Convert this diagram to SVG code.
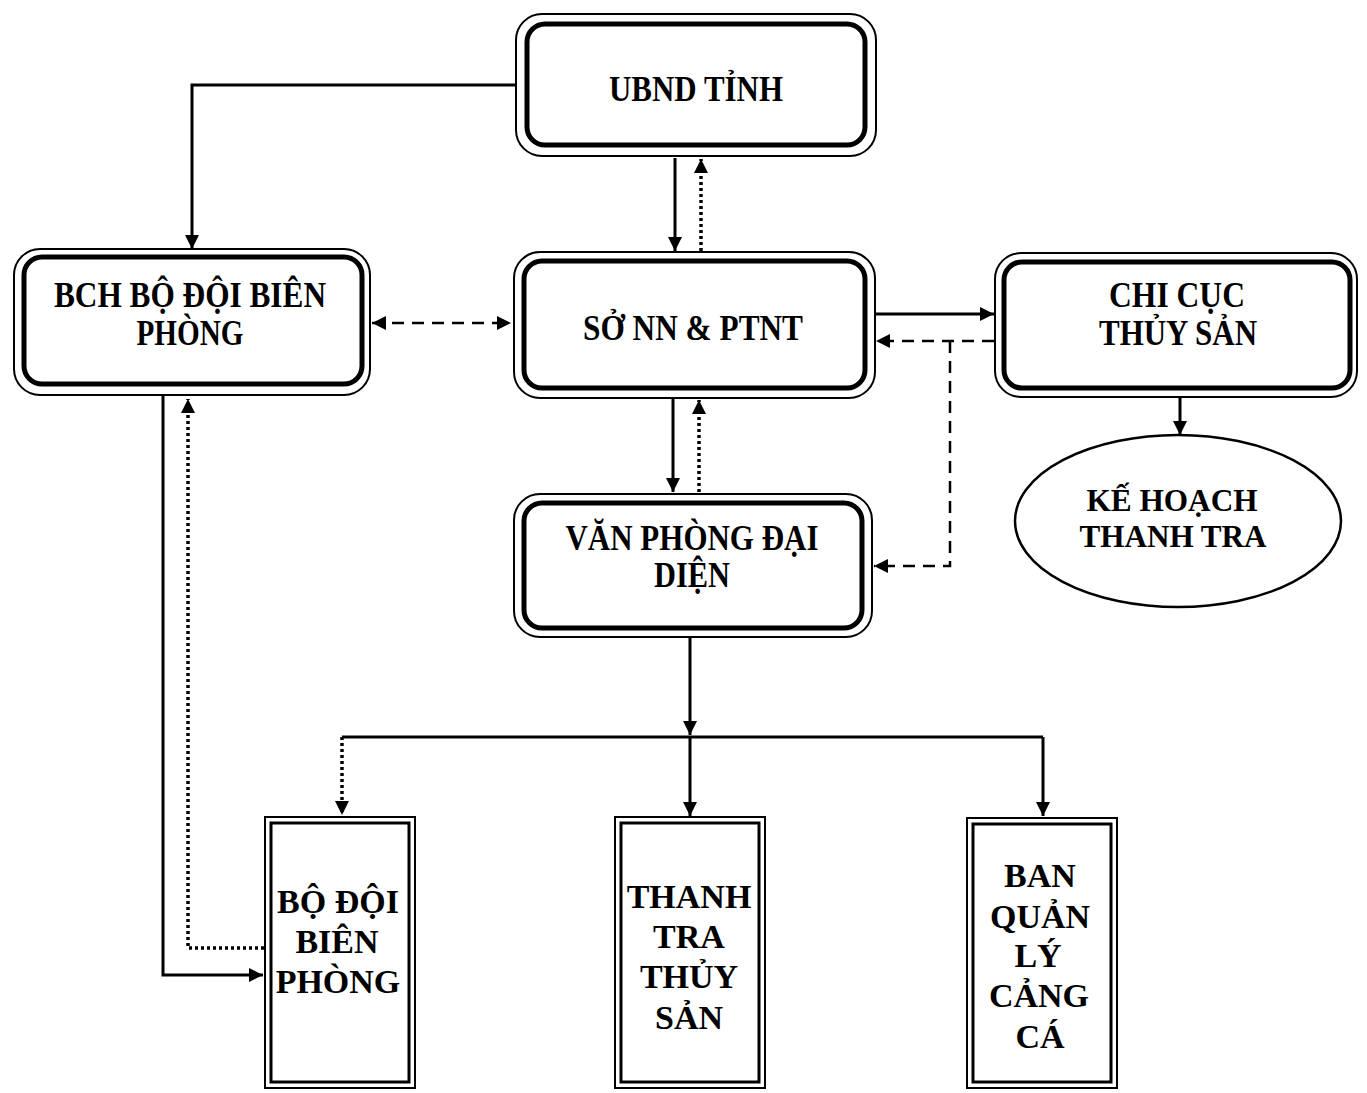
<svg xmlns="http://www.w3.org/2000/svg" width="1367" height="1093" viewBox="0 0 1367 1093">
<defs>
<style>
.o{fill:none;stroke:#000;stroke-width:2}
.i{fill:none;stroke:#000;stroke-width:5}
.bo{fill:none;stroke:#000;stroke-width:2}
.bi{fill:none;stroke:#000;stroke-width:3}
.t{font-family:"Liberation Serif","Times New Roman",serif;font-weight:bold;font-size:36px;text-anchor:middle;fill:#000}
.te{font-family:"Liberation Serif","Times New Roman",serif;font-weight:bold;font-size:32px;text-anchor:middle;fill:#000}
.tb{font-family:"Liberation Serif","Times New Roman",serif;font-weight:bold;font-size:34px;text-anchor:middle;fill:#000}
.s{fill:none;stroke:#000;stroke-width:3}
.d{fill:none;stroke:#000;stroke-width:2.5;stroke-dasharray:12 8}
.p{fill:none;stroke:#000;stroke-width:3.5;stroke-dasharray:3 3}
</style>
<marker id="a" viewBox="0 0 12 12" refX="12" refY="6" markerWidth="14" markerHeight="14" markerUnits="userSpaceOnUse" orient="auto-start-reverse">
<path d="M0,0 L12,6 L0,12 Z" fill="#000"/>
</marker>
</defs>
<rect width="1367" height="1093" fill="#fff"/>

<g id="connectors">
<polyline class="s" points="516,85 192,85 192,249" marker-end="url(#a)"/>
<line class="s" x1="675" y1="158" x2="675" y2="251" marker-end="url(#a)"/>
<line class="p" x1="701" y1="251" x2="701" y2="159" marker-end="url(#a)"/>
<line class="d" x1="372" y1="323" x2="511" y2="323" marker-start="url(#a)" marker-end="url(#a)"/>
<line class="s" x1="876" y1="314" x2="994" y2="314" marker-end="url(#a)"/>
<line class="d" x1="994" y1="341" x2="876" y2="341" marker-end="url(#a)"/>
<polyline class="d" points="950,341 950,566 874,566" marker-end="url(#a)"/>
<line class="s" x1="1180" y1="398" x2="1180" y2="435" marker-end="url(#a)"/>
<line class="s" x1="673" y1="399" x2="673" y2="492" marker-end="url(#a)"/>
<line class="p" x1="699" y1="492" x2="699" y2="400" marker-end="url(#a)"/>
<line class="s" x1="690" y1="638" x2="690" y2="735" marker-end="url(#a)"/>
<line class="s" x1="342" y1="737" x2="1043" y2="737"/>
<line class="s" x1="690" y1="737" x2="690" y2="816" marker-end="url(#a)"/>
<line class="s" x1="1043" y1="737" x2="1043" y2="816" marker-end="url(#a)"/>
<line class="p" x1="342" y1="737" x2="342" y2="815" marker-end="url(#a)"/>
<polyline class="s" points="163,395 163,975 263,975" marker-end="url(#a)"/>
<polyline class="p" points="264,948 188,948 188,399" marker-end="url(#a)"/>
</g>

<g id="ubnd">
<rect class="o" x="516" y="14" width="360" height="142" rx="26"/>
<rect class="i" x="527" y="24" width="338" height="121" rx="18"/>
<text class="t" x="696" y="101" textLength="174" lengthAdjust="spacingAndGlyphs">UBND TỈNH</text>
</g>

<g id="bch">
<rect class="o" x="14" y="249" width="356" height="146" rx="26"/>
<rect class="i" x="24" y="257" width="338" height="127" rx="18"/>
<text class="t" x="190" y="307" textLength="272" lengthAdjust="spacingAndGlyphs">BCH BỘ ĐỘI BIÊN</text>
<text class="t" x="190" y="345" textLength="107" lengthAdjust="spacingAndGlyphs">PHÒNG</text>
</g>

<g id="so">
<rect class="o" x="514" y="252" width="361" height="146" rx="26"/>
<rect class="i" x="524" y="261" width="341" height="127" rx="18"/>
<text class="t" x="693" y="340" textLength="220" lengthAdjust="spacingAndGlyphs">SỞ NN &amp; PTNT</text>
</g>

<g id="chicuc">
<rect class="o" x="995" y="253" width="362" height="144" rx="26"/>
<rect class="i" x="1004" y="262" width="346" height="126" rx="18"/>
<text class="t" x="1177" y="307" textLength="136" lengthAdjust="spacingAndGlyphs">CHI CỤC</text>
<text class="t" x="1178" y="345" textLength="158" lengthAdjust="spacingAndGlyphs">THỦY SẢN</text>
</g>

<g id="kehoach">
<ellipse cx="1178" cy="521" rx="163" ry="86" fill="none" stroke="#000" stroke-width="2.5"/>
<text class="te" x="1172" y="511" textLength="171" lengthAdjust="spacingAndGlyphs">KẾ HOẠCH</text>
<text class="te" x="1173" y="547" textLength="187" lengthAdjust="spacingAndGlyphs">THANH TRA</text>
</g>

<g id="vanphong">
<rect class="o" x="514" y="494" width="358" height="143" rx="26"/>
<rect class="i" x="524" y="503" width="338" height="125" rx="18"/>
<text class="t" x="692" y="550" textLength="253" lengthAdjust="spacingAndGlyphs">VĂN PHÒNG ĐẠI</text>
<text class="t" x="692" y="587" textLength="76" lengthAdjust="spacingAndGlyphs">DIỆN</text>
</g>

<g id="bodoi">
<rect class="bo" x="265" y="817" width="150" height="271"/>
<rect class="bi" x="271" y="823" width="138" height="259"/>
<text class="tb" x="338" y="913">BỘ ĐỘI</text>
<text class="tb" x="337" y="953">BIÊN</text>
<text class="tb" x="338" y="993">PHÒNG</text>
</g>

<g id="thanhtra">
<rect class="bo" x="615" y="817" width="150" height="271"/>
<rect class="bi" x="621" y="823" width="138" height="259"/>
<text class="tb" x="689" y="908">THANH</text>
<text class="tb" x="689" y="948">TRA</text>
<text class="tb" x="689" y="988">THỦY</text>
<text class="tb" x="689" y="1029">SẢN</text>
</g>

<g id="banquanly">
<rect class="bo" x="967" y="818" width="150" height="270"/>
<rect class="bi" x="973" y="824" width="138" height="258"/>
<text class="tb" x="1040" y="887">BAN</text>
<text class="tb" x="1040" y="928">QUẢN</text>
<text class="tb" x="1038" y="967">LÝ</text>
<text class="tb" x="1039" y="1007">CẢNG</text>
<text class="tb" x="1040" y="1048">CÁ</text>
</g>
</svg>
